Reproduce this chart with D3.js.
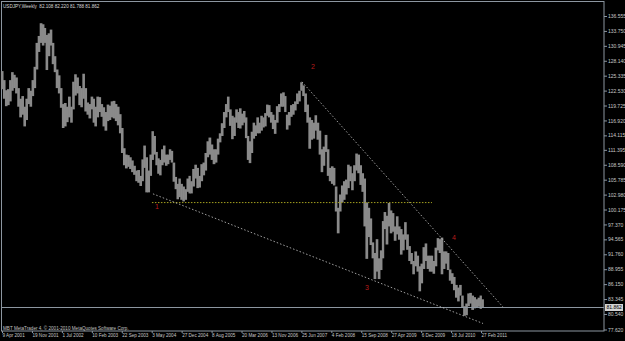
<!DOCTYPE html>
<html lang="en">
<head>
<meta charset="UTF-8">
<title>USDJPY Weekly</title>
<style>
  body { margin: 0; background: #000; }
  svg { display: block; }
  text { font-family: "Liberation Sans", Arial, sans-serif; }
</style>
</head>
<body>
<script src="https://d3js.org/d3.v7.min.js"></script>
<script>
// half-month bars, starting 1 Apr 2001 (1st and 16th of every month)
const firstPeriod = "2001-04-01";
const highs = [
  126.2,124.5, 122.6,122.8, 124.5,126.0, 125.5,125.0, 123.0,121.0, 121.5,119.5, 121.0,123.0, 122.5,124.5, 127.0,131.5,
  132.8,135.2, 135.0,134.3, 133.0,133.3, 134.0,131.5, 129.0,126.5, 125.4,123.0, 120.0,120.2, 119.5,121.4, 119.5,124.2, 125.6,125.0, 123.4,123.0, 125.7,123.0,
  120.3,120.0, 121.4,121.0, 119.5,121.4, 121.3,120.0, 119.4,118.5, 119.9,119.7, 120.5,120.6, 120.0,119.5, 118.1,115.5, 111.7,110.5, 110.4,110.0, 109.4,108.4,
  107.5,107.6, 106.5,109.6, 112.2,110.0, 107.5,110.5, 114.9,114.0, 111.0,109.8, 109.5,111.5, 112.2,110.5, 110.5,111.5, 111.2,109.0, 106.3,105.0, 106.0,105.0,
  104.5,104.0, 106.0,106.5, 105.5,107.8, 108.6,108.0, 106.5,108.7, 109.0,110.8, 113.0,113.7, 112.4,111.5, 111.5,113.5, 114.5,116.4, 118.5,120.0, 121.4,119.0,
  117.8,117.5, 119.0,118.5, 119.2,118.2, 118.7,117.5, 114.0,113.0, 114.8,116.5, 116.0,117.5, 116.5,117.8, 117.5,118.3, 119.9,119.8, 118.5,118.0, 117.0,119.6,
  120.0,122.0, 122.2,121.5, 118.0,118.5, 119.8,120.0, 120.5,122.0, 122.5,124.1, 123.5,122.0, 119.9,117.5, 117.0,116.5, 117.9,116.5, 115.0,111.5, 112.0,114.2,
  111.5,108.0, 108.3,108.0, 104.5,100.5, 103.0,104.7, 105.5,105.8, 108.6,108.3, 107.0,108.5, 110.7,110.5, 108.5,107.0, 106.0,101.5, 100.5,98.5, 94.0,92.0,
  94.6,91.0, 92.5,98.0, 99.7,99.0, 101.4,100.0, 99.5,97.0, 98.9,97.0, 96.5,95.5, 97.8,95.5, 93.3,92.0, 90.5,92.3, 91.5,89.5, 90.0,93.1,
  93.8,91.5, 91.5,91.5, 90.5,93.0, 94.8,94.6, 94.9,92.3, 92.3,92.0, 88.9,88.2, 87.5,86.0, 85.5,86.0, 84.0,82.0, 82.5,84.4, 84.5,84.0,
  83.7,83.3, 83.6,84.0, 83.3
];
const lows = [
  122.8,121.0, 119.6,119.8, 120.5,122.5, 123.0,122.0, 119.5,117.5, 118.0,115.8, 117.0,120.0, 119.5,121.5, 123.0,126.5,
  129.8,131.5, 131.0,131.5, 126.4,129.0, 131.0,127.5, 126.0,123.0, 122.0,119.3, 115.5,115.8, 116.6,117.5, 116.5,119.0, 121.6,122.0, 119.8,119.4, 121.0,118.6,
  118.0,117.3, 119.0,116.5, 115.8,117.5, 118.5,117.6, 115.8,115.0, 116.8,117.0, 117.5,117.3, 116.8,116.0, 114.5,110.8, 108.5,107.9, 108.2,107.8, 107.2,106.7,
  105.5,105.2, 104.6,105.5, 108.0,103.4, 103.4,106.5, 109.5,110.5, 108.5,106.9, 106.6,108.5, 109.0,108.4, 108.7,109.5, 109.0,105.4, 104.0,102.1, 102.5,102.0,
  101.7,102.0, 103.5,103.2, 103.2,104.5, 106.0,104.2, 104.3,105.5, 106.6,107.5, 110.0,110.5, 109.5,108.7, 109.0,110.5, 112.8,114.0, 115.5,117.5, 118.5,115.9,
  113.4,114.0, 116.5,115.5, 115.4,116.0, 116.5,113.6, 109.5,108.9, 110.8,113.5, 114.0,114.5, 114.5,115.0, 115.6,115.8, 117.8,117.5, 116.5,115.3, 114.4,116.5,
  118.5,119.5, 119.5,118.5, 115.2,116.0, 117.6,118.0, 118.8,120.0, 120.5,122.5, 121.5,118.5, 116.5,111.6, 113.3,113.5, 115.0,113.3, 110.5,107.2, 108.4,111.0,
  106.5,105.5, 105.0,104.7, 99.8,95.7, 99.8,101.5, 102.0,103.0, 104.2,105.5, 103.8,105.5, 107.5,107.0, 104.8,103.5, 97.0,90.9, 95.0,93.5, 91.0,87.1,
  88.5,87.1, 88.8,91.0, 96.5,93.6, 97.0,95.7, 96.0,94.3, 95.5,94.5, 91.7,92.5, 94.5,92.6, 90.5,89.9, 88.0,89.5, 88.5,84.8, 86.3,89.0,
  90.5,89.0, 88.5,88.5, 88.1,89.5, 92.5,92.0, 88.0,89.0, 90.0,88.8, 86.8,86.2, 85.0,83.6, 82.9,84.0, 81.8,80.2, 80.3,82.0, 82.5,81.3,
  81.6,81.8, 81.9,81.5, 81.8
];

const xTickLabels = ["9 Apr 2001", "19 Nov 2001", "1 Jul 2002", "10 Feb 2003", "22 Sep 2003", "3 May 2004",
  "27 Dec 2004", "8 Aug 2005", "20 Mar 2006", "13 Nov 2006", "25 Jun 2007", "4 Feb 2008", "15 Sep 2008",
  "27 Apr 2009", "6 Dec 2009", "18 Jul 2010", "27 Feb 2011"];
const yTicks = [136.555, 133.750, 130.945, 128.140, 125.335, 122.530, 119.725, 116.920, 114.115, 111.395,
  108.590, 105.785, 102.980, 100.175, 97.370, 94.565, 91.760, 88.955, 86.150, 83.345, 80.540, 77.620];
const lastBar = [82.108, 82.220, 81.788, 81.862];

// wave marks and drawn lines
const waveNames = ["1", "2", "3", "4"];
const waveDates = ["2004-06-14", "2007-09-20", "2008-10-28", "2010-08-09"];
const wavePrices = [100.7, 127.0, 85.6, 95.0];
const supportDates = ["2004-05-13", "2011-03-14"];
const supportPrices = [103.12, 78.75];
const resistDates = ["2007-06-29", "2011-08-10"];
const resistPrices = [124.19, 81.86];
const levelDates = ["2004-05-05", "2010-02-25"];
const levelPrice = 101.48;

const width = 625, height = 341;
const axisX = 604, axisY = 331;

const svg = d3.select("body").append("svg")
  .attr("width", width).attr("height", height)
  .style("background", "#000");

const parseLabel = d3.timeParse("%e %b %Y");
const parseIso = d3.timeParse("%Y-%m-%d");
const tickDates = xTickLabels.map(s => parseLabel(s));

// MT4 puts a date label every 32 bars
const x = d3.scaleTime()
  .domain(tickDates)
  .range(tickDates.map((d, i) => 2 + i * 29.94));

const y = d3.scaleLinear()
  .domain([77.62, 136.555])
  .range([329.5, 16]);

// period start dates
const start0 = parseIso(firstPeriod);
const periods = highs.map((h, i) => {
  const m = d3.timeMonth.offset(start0, Math.floor(i / 2));
  const s = new Date(m); s.setDate(i % 2 ? 16 : 1);
  const nm = d3.timeMonth.offset(start0, Math.floor((i + 1) / 2));
  const e = new Date(nm); e.setDate((i + 1) % 2 ? 16 : 1);
  return { s: s, e: e, h: h, l: lows[i] };
});

// frame
svg.append("rect")
  .attr("x", 1.5).attr("y", 1.5)
  .attr("width", axisX - 1.5).attr("height", axisY - 1.5)
  .attr("fill", "none").attr("stroke", "#8c96a0").attr("stroke-width", 1);

// bars
svg.append("g").selectAll("rect")
  .data(periods)
  .enter()
  .append("rect")
  .attr("x", d => x(d.s))
  .attr("width", d => x(d.e) - x(d.s) + 0.6)
  .attr("y", d => y(d.h))
  .attr("height", d => y(d.l) - y(d.h))
  .attr("fill", "#8a8a8a");

// bid line
svg.append("line")
  .attr("x1", 1).attr("x2", axisX)
  .attr("y1", Math.round(y(lastBar[3])) + 0.5).attr("y2", Math.round(y(lastBar[3])) + 0.5)
  .attr("stroke", "#8c96a0").attr("stroke-width", 1);

// horizontal level
svg.append("line")
  .attr("x1", x(parseIso(levelDates[0]))).attr("x2", x(parseIso(levelDates[1])))
  .attr("y1", y(levelPrice)).attr("y2", y(levelPrice))
  .attr("stroke", "#a4a020").attr("stroke-width", 1)
  .attr("stroke-dasharray", "1.5,1.5");

// trend lines
[[supportDates, supportPrices], [resistDates, resistPrices]].forEach(function(t) {
  svg.append("line")
    .attr("x1", x(parseIso(t[0][0]))).attr("y1", y(t[1][0]))
    .attr("x2", x(parseIso(t[0][1]))).attr("y2", y(t[1][1]))
    .attr("stroke", "#c8c8c8").attr("stroke-width", 0.8)
    .attr("stroke-dasharray", "1.5,2");
});

// wave numbers
svg.append("g").selectAll("text")
  .data(waveNames)
  .enter()
  .append("text")
  .attr("x", (d, i) => x(parseIso(waveDates[i])))
  .attr("y", (d, i) => y(wavePrices[i]))
  .attr("text-anchor", "middle")
  .attr("dominant-baseline", "central")
  .attr("fill", "#b81c1c")
  .attr("font-size", 7)
  .text(d => d);

// y axis
const gy = svg.append("g")
  .attr("transform", "translate(" + axisX + ",0)")
  .call(d3.axisRight(y).tickValues(yTicks).tickFormat(d3.format(".3f")).tickSize(3).tickPadding(1));
gy.select(".domain").remove();
gy.selectAll("line").attr("stroke", "#8c96a0");
gy.selectAll("text").attr("fill", "#c8c8c8").attr("font-size", 5).attr("font-family", "Liberation Sans, Arial, sans-serif");

// x axis
const gx = svg.append("g")
  .attr("transform", "translate(0," + axisY + ")")
  .call(d3.axisBottom(x).tickValues(tickDates).tickFormat((d, i) => xTickLabels[i]).tickSize(2).tickPadding(1));
gx.select(".domain").remove();
gx.selectAll("line").attr("stroke", "#8c96a0");
gx.selectAll("text").attr("fill", "#c8c8c8").attr("font-size", 4.6)
  .attr("text-anchor", "start").attr("font-family", "Liberation Sans, Arial, sans-serif");

// price box
const py = Math.round(y(lastBar[3]));
svg.append("rect")
  .attr("x", axisX + 1).attr("y", py - 3)
  .attr("width", 18).attr("height", 7)
  .attr("fill", "#d4d4d4");
svg.append("text")
  .attr("x", axisX + 2.5).attr("y", py + 2.3)
  .attr("fill", "#000").attr("font-size", 5)
  .text(d3.format(".3f")(lastBar[3]));

// header and footer
svg.append("text")
  .attr("x", 3).attr("y", 7.5)
  .attr("fill", "#d8d8d8").attr("font-size", 4.6)
  .attr("xml:space", "preserve")
  .text("USDJPY,Weekly  " + lastBar.map(d3.format(".3f")).join(" "));

svg.append("text")
  .attr("x", 3).attr("y", 329.5)
  .attr("fill", "#c0c0c0").attr("font-size", 4.6)
  .text("MBT MetaTrader 4, \u00a9 2001-2010 MetaQuotes Software Corp.");
</script>
</body>
</html>
